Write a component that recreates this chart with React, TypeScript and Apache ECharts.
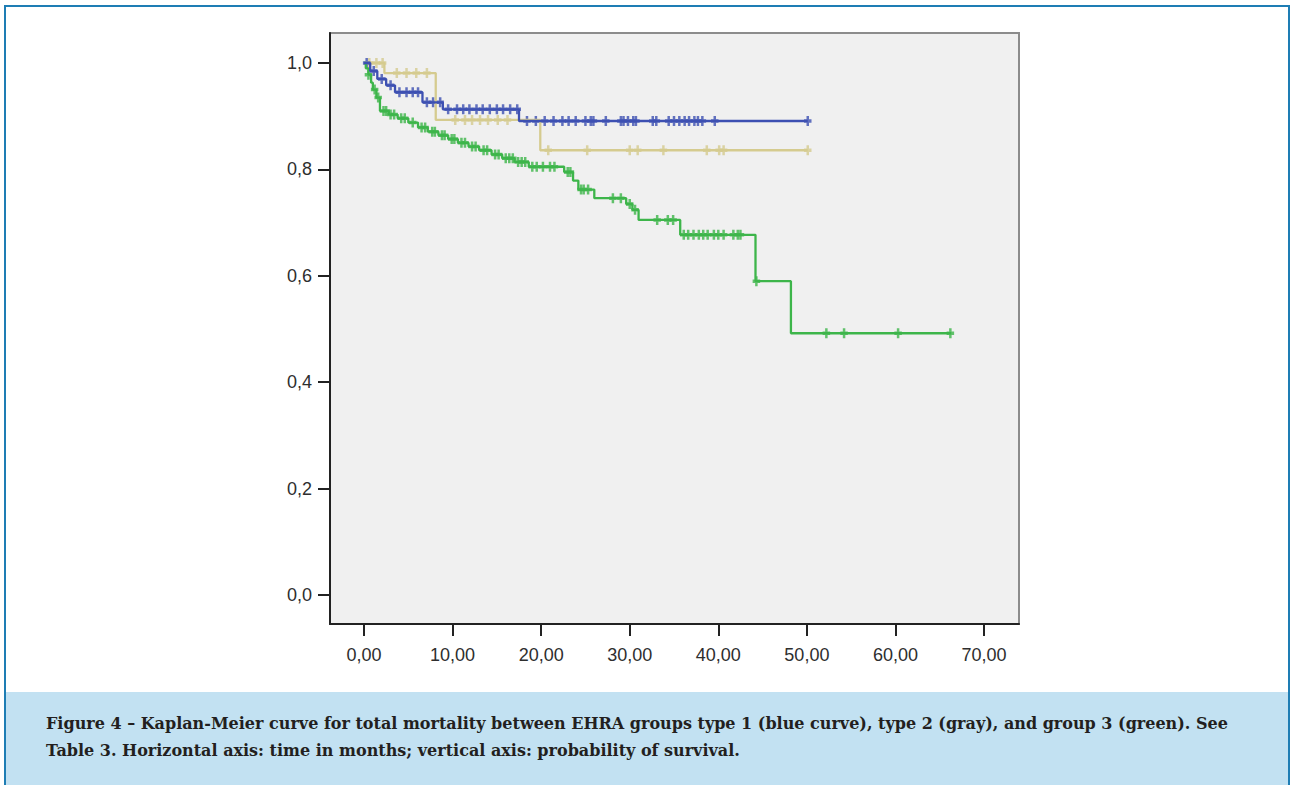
import React, { useEffect, useRef } from "react";
import * as echarts from "echarts";

const xTicks = [0, 10, 20, 30, 40, 50, 60, 70];
const yTicks = [0, 0.2, 0.4, 0.6, 0.8, 1.0];

// EHRA type 1 (blue)
const blueTimes = [0, 0.7, 1.5, 2.5, 3.5, 6.6, 8.9, 17.5];
const blueSurv = [1.0, 0.985, 0.97, 0.958, 0.945, 0.926, 0.913, 0.891];
const blueEnd = 50.1;
const blueCensor = [0.3, 1.1, 2.0, 3.0, 4.0, 4.8, 5.5, 6.1, 7.1, 7.8, 8.6, 9.5, 10.5, 11.2, 11.9, 12.7, 13.4, 14.2, 15.0, 15.7, 16.5, 17.3, 18.4, 19.4, 20.4, 21.4, 22.4, 23.1, 23.9, 25.0, 25.6, 25.9, 27.3, 29.0, 29.3, 29.8, 30.4, 30.7, 32.6, 33.0, 34.4, 35.0, 35.6, 36.2, 36.7, 37.3, 37.7, 38.2, 39.6, 50.1];

// EHRA type 2 (gray / tan)
const tanTimes = [0, 2.3, 8.1, 19.9];
const tanSurv = [1.0, 0.981, 0.893, 0.836];
const tanEnd = 50.1;
const tanCensor = [0.6, 1.4, 2.1, 3.7, 4.8, 5.9, 7.1, 10.3, 11.4, 12.2, 13.1, 14.0, 15.1, 16.2, 20.8, 25.2, 30.0, 30.9, 33.8, 38.7, 40.1, 40.6, 50.1];

// EHRA group 3 (green)
const greenTimes = [0, 0.2, 0.5, 0.8, 1.0, 1.4, 1.8, 2.8, 3.8, 5.0, 6.1, 7.2, 8.4, 9.5, 10.6, 11.8, 13.0, 14.4, 15.6, 17.0, 18.6, 22.6, 23.6, 24.2, 26.0, 29.6, 30.3, 31.0, 35.7, 44.2, 48.2];
const greenSurv = [1.0, 0.99, 0.978, 0.963, 0.95, 0.935, 0.91, 0.903, 0.896, 0.888, 0.879, 0.871, 0.864, 0.857, 0.85, 0.843, 0.836, 0.828, 0.821, 0.814, 0.805, 0.795, 0.779, 0.762, 0.746, 0.735, 0.724, 0.705, 0.677, 0.59, 0.492];
const greenEnd = 66.3;
const greenCensor = [0.5, 1.2, 1.6, 2.2, 2.5, 3.0, 3.4, 4.2, 4.6, 5.5, 6.5, 6.9, 7.7, 8.0, 8.8, 9.1, 9.9, 10.2, 11.0, 11.4, 12.2, 12.6, 13.5, 13.9, 14.8, 15.2, 16.0, 16.4, 16.8, 17.4, 17.8, 18.2, 19.0, 19.5, 20.2, 21.0, 21.5, 23.0, 23.3, 24.5, 24.8, 25.3, 28.1, 29.0, 30.0, 30.6, 33.1, 34.3, 34.9, 36.1, 36.6, 37.2, 37.8, 38.3, 38.8, 39.5, 40.0, 40.6, 41.7, 42.2, 42.5, 44.3, 52.2, 54.2, 60.3, 66.2];

const captionLines = [
  "Figure 4 \u2013 Kaplan-Meier curve for total mortality between EHRA groups type 1 (blue curve), type 2 (gray), and group 3 (green). See",
  "Table 3. Horizontal axis: time in months; vertical axis: probability of survival.",
];

const BLUE = "#3d50b2";
const TAN = "#d5cb8f";
const GREEN = "#3db54a";

function stepAt(times: number[], surv: number[], t: number) {
  let s = surv[0];
  for (let i = 0; i < times.length; i++) if (t >= times[i]) s = surv[i];
  return s;
}
function curve(times: number[], surv: number[], end: number) {
  const pts = times.map((t, i) => [t, surv[i]]);
  pts.push([end, surv[surv.length - 1]]);
  return pts;
}
function censorPts(times: number[], surv: number[], cens: number[]) {
  return cens.map((t) => [t, stepAt(times, surv, t)]);
}

const PLUS = "path://M2.5,0h2.5v10h-2.5z M0,3.25h7.5v3.5h-7.5z";

function lineSeries(name: string, color: string, data: number[][]) {
  return {
    name,
    type: "line",
    step: "end",
    data,
    showSymbol: false,
    lineStyle: { color, width: 2.3 },
    itemStyle: { color },
    silent: true,
  };
}
function censorSeries(name: string, color: string, data: number[][]) {
  return {
    name,
    type: "scatter",
    data,
    symbol: PLUS,
    symbolSize: [7.5, 10],
    itemStyle: { color },
    silent: true,
  };
}

export default function App() {
  const ref = useRef<HTMLDivElement>(null);
  useEffect(() => {
    if (!ref.current) return;
    const chart = echarts.init(ref.current, undefined, { renderer: "svg" });
    const labelStyle = {
      fontSize: 18,
      color: "#2e2e2e",
      fontFamily: "Liberation Sans, Arial, sans-serif",
    };
    chart.setOption({
      animation: false,
      backgroundColor: "#ffffff",
      grid: {
        left: 330,
        top: 33,
        width: 689,
        height: 591,
        show: true,
        backgroundColor: "#f0f0f0",
        borderColor: "#8c8c8c",
        borderWidth: 2,
      },
      xAxis: {
        type: "value",
        min: -3.84,
        max: 73.95,
        splitLine: { show: false },
        axisLine: { show: true, onZero: false, lineStyle: { color: "#222", width: 2 } },
        axisTick: { show: true, length: 12, customValues: xTicks, lineStyle: { color: "#222", width: 2 } },
        axisLabel: {
          ...labelStyle,
          customValues: xTicks,
          margin: 22,
          formatter: (v: number) => v.toFixed(2).replace(".", ","),
        },
      },
      yAxis: {
        type: "value",
        min: -0.0545,
        max: 1.0564,
        splitLine: { show: false },
        axisLine: { show: true, onZero: false, lineStyle: { color: "#222", width: 2 } },
        axisTick: { show: true, length: 12, customValues: yTicks, lineStyle: { color: "#222", width: 2 } },
        axisLabel: {
          ...labelStyle,
          customValues: yTicks,
          margin: 18,
          formatter: (v: number) => v.toFixed(1).replace(".", ","),
        },
      },
      series: [
        lineSeries("Type 2", TAN, curve(tanTimes, tanSurv, tanEnd)),
        censorSeries("Type 2 censored", TAN, censorPts(tanTimes, tanSurv, tanCensor)),
        lineSeries("Group 3", GREEN, curve(greenTimes, greenSurv, greenEnd)),
        censorSeries("Group 3 censored", GREEN, censorPts(greenTimes, greenSurv, greenCensor)),
        lineSeries("Type 1", BLUE, curve(blueTimes, blueSurv, blueEnd)),
        censorSeries("Type 1 censored", BLUE, censorPts(blueTimes, blueSurv, blueCensor)),
      ],
      graphic: [
        {
          type: "rect",
          shape: { x: 6, y: 692, width: 1282, height: 100 },
          style: { fill: "#c2e1f2" },
          silent: true,
        },
        {
          type: "rect",
          shape: { x: 5, y: 6, width: 1284, height: 800 },
          style: { fill: "none", stroke: "#1e7db4", lineWidth: 2 },
          silent: true,
        },
        ...captionLines.map((t, i) => ({
          type: "text",
          x: 46,
          y: 723 + i * 27,
          style: {
            text: t,
            fill: "#231f20",
            font: 'bold 16px "DejaVu Serif", serif',
            verticalAlign: "middle",
            align: "left",
          },
          silent: true,
        })),
      ],
    });
    return () => chart.dispose();
  }, []);
  return (
    <div
      ref={ref}
      style={{ position: "absolute", left: 0, top: 0, width: 1294, height: 785, background: "#fff" }}
    />
  );
}
